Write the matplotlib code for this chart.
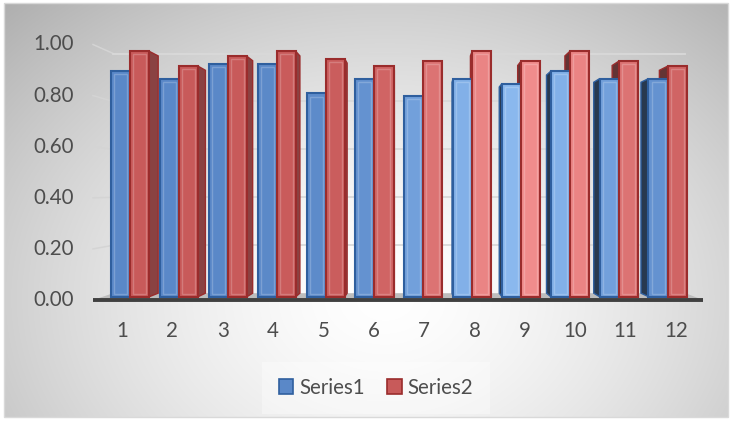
import numpy as np
import matplotlib
matplotlib.use("Agg")
import matplotlib.pyplot as plt
from matplotlib.patches import Polygon, Rectangle, Patch
from matplotlib.colors import to_rgb

# ---- data ----
categories = [str(i) for i in range(1, 13)]
series1 = [0.91, 0.88, 0.94, 0.94, 0.82, 0.88, 0.81, 0.88, 0.86, 0.91, 0.88, 0.88]
series2 = [0.99, 0.93, 0.97, 0.99, 0.96, 0.93, 0.95, 0.99, 0.95, 0.99, 0.95, 0.93]
series_names = ["Series1", "Series2"]
y_ticks = [0.0, 0.2, 0.4, 0.6, 0.8, 1.0]
y_tick_labels = [f"{t:.2f}" for t in y_ticks]

# ---- layout (pixels) ----
W, H = 732, 421
X0_PX, DX_PX = 122.0, 50.36      # x pixel of category 1, pixels per category
Y0_PX, DY_PX = 300.0, 255.5      # y pixel of value 0, pixels per unit value
VP_PX = (420.0, 190.0)           # vanishing point of the 3-D box
WALL_DEPTH = 0.062               # fraction toward vanishing point of the back wall
BAR_FRONT, BAR_BACK = 0.03, 0.062
FONT = ["Lato", "DejaVu Sans"]
TXT = "#4d4d4d"
FS = 14.8

def px_to_data(px, py):
    return 1 + (px - X0_PX) / DX_PX, (Y0_PX - py) / DY_PX

VPX, VPY = px_to_data(*VP_PX)

def proj(x, v, s):
    return (x + s * (VPX - x), v + s * (VPY - v))

fig = plt.figure(figsize=(W / 100, H / 100), dpi=100)
fig.patch.set_facecolor("white")

# ---- chart-area radial gradient ----
bg = fig.add_axes([0, 0, 1, 1], zorder=0)
bg.set_xlim(0, W)
bg.set_ylim(H, 0)
bg.axis("off")
yy, xx = np.mgrid[0:H, 0:W]
d = np.sqrt(((xx - 385) / 470.0) ** 2 + ((yy - 300) / 360.0) ** 2)
g = 1.0 - 0.25 * np.clip(d, 0, 1.2) ** 1.5
img = np.dstack([g, g, g])
bg.imshow(img, extent=(4, 728, 417, 3), interpolation="bilinear", aspect="auto")
bg.add_patch(Rectangle((4, 3), 724, 414, fill=False, edgecolor="#d9d9d9", lw=1))

ax = fig.add_axes([0, 0, 1, 1], zorder=1)
ax.patch.set_alpha(0)
ax.set_xlim(*[px_to_data(p, 0)[0] for p in (0, W)])
ax.set_ylim(px_to_data(0, H)[1], px_to_data(0, 0)[1])
ax.axis("off")

XL, XR = px_to_data(93, 0)[0], px_to_data(703, 0)[0]

# ---- gridlines on left and back walls ----
for t in y_ticks[1:]:
    bl = proj(XL, t, WALL_DEPTH)
    br = proj(XR, t, WALL_DEPTH)
    ax.plot([XL, bl[0]], [t, bl[1]], color="#d4d4d4", lw=1.1, zorder=2)
    ax.plot([bl[0], br[0]], [bl[1], br[1]], color="#d9d9d9", lw=1.3, zorder=2)

# ---- floor ----
fl = [(XL, 0), (XR, 0), proj(XR, 0, WALL_DEPTH), proj(XL, 0, WALL_DEPTH)]
ax.add_patch(Polygon(fl, closed=True, facecolor="#bdbdbd", edgecolor="none", zorder=3))

# ---- bars ----
def mix(c1, c2, t):
    a, b = np.array(to_rgb(c1)), np.array(to_rgb(c2))
    return tuple(a + (b - a) * t)

styles = [
    dict(base="#5a88c8", light="#8ab8ee", edge="#2f5f9e", side="#2f4a6b"),
    dict(base="#c85a5a", light="#f08c8c", edge="#9a2c2c", side="#8a4242"),
]
offsets = [(-0.405, -0.015), (-0.015, 0.375)]

sides, fronts = [], []
for k, vals in enumerate([series1, series2]):
    st = styles[k]
    for i, v in enumerate(vals):
        c = i + 1
        x1, x2 = c + offsets[k][0], c + offsets[k][1]
        t = np.exp(-((c - 9.0) / 2.4) ** 2)
        face = mix(st["base"], st["light"], t)
        f = [proj(x1, 0, BAR_FRONT), proj(x2, 0, BAR_FRONT),
             proj(x2, v, BAR_FRONT), proj(x1, v, BAR_FRONT)]
        # visible side face: right side left of the vanishing point, else left side
        xs = x2 if x2 < VPX else x1
        s = [proj(xs, 0, BAR_FRONT), proj(xs, 0, BAR_BACK),
             proj(xs, v, BAR_BACK), proj(xs, v, BAR_FRONT)]
        sc = st["side"] if x2 < VPX else mix(st["side"], "#1a1a1a", 0.35)
        sides.append(Polygon(s, closed=True, facecolor=sc, edgecolor=st["edge"], lw=1.0, zorder=4))
        fronts.append((f, face, st))

for p in sides:
    ax.add_patch(p)
for f, face, st in fronts:
    ax.add_patch(Polygon(f, closed=True, facecolor=face, edgecolor=st["edge"], lw=1.5, zorder=5))
    (fx1, fy1), (fx2, _), (_, fy2), _ = f
    ix = 0.06
    iy = 0.012
    hi = mix(face, "#ffffff", 0.2)
    ax.add_patch(Rectangle((fx1 + ix, fy1 + iy), (fx2 - fx1) - 2 * ix, (fy2 - fy1) - 2 * iy,
                           fill=False, edgecolor=hi, lw=1.0, zorder=6))

# ---- category axis line ----
ax.plot([XL, XR], [0, 0], color="#404040", lw=2.8, solid_capstyle="butt", zorder=7)

# ---- tick labels ----
xlab = px_to_data(74, 0)[0]
for t, lab in zip(y_ticks, y_tick_labels):
    ax.text(xlab, t, lab, ha="right", va="center", fontsize=FS, color=TXT, family=FONT)
ylab = px_to_data(0, 331)[1]
for i, lab in enumerate(categories):
    ax.text(i + 1, ylab, lab, ha="center", va="center", fontsize=FS, color=TXT, family=FONT)

# ---- legend ----
handles = [Patch(facecolor=styles[k]["base"], edgecolor=styles[k]["edge"], lw=1.2, label=series_names[k])
           for k in range(2)]
leg = ax.legend(handles=handles, loc="center", bbox_to_anchor=(376 / W, 1 - 388 / H),
                bbox_transform=fig.transFigure, ncol=2, frameon=True, fancybox=False,
                handlelength=0.72, handleheight=0.72, handletextpad=0.3, columnspacing=1.05,
                borderpad=0.8, prop={"family": FONT, "size": FS})
leg.get_frame().set_facecolor("white")
leg.get_frame().set_alpha(0.35)
leg.get_frame().set_edgecolor("none")
for txt in leg.get_texts():
    txt.set_color(TXT)

fig.savefig("out.png", dpi=100)
